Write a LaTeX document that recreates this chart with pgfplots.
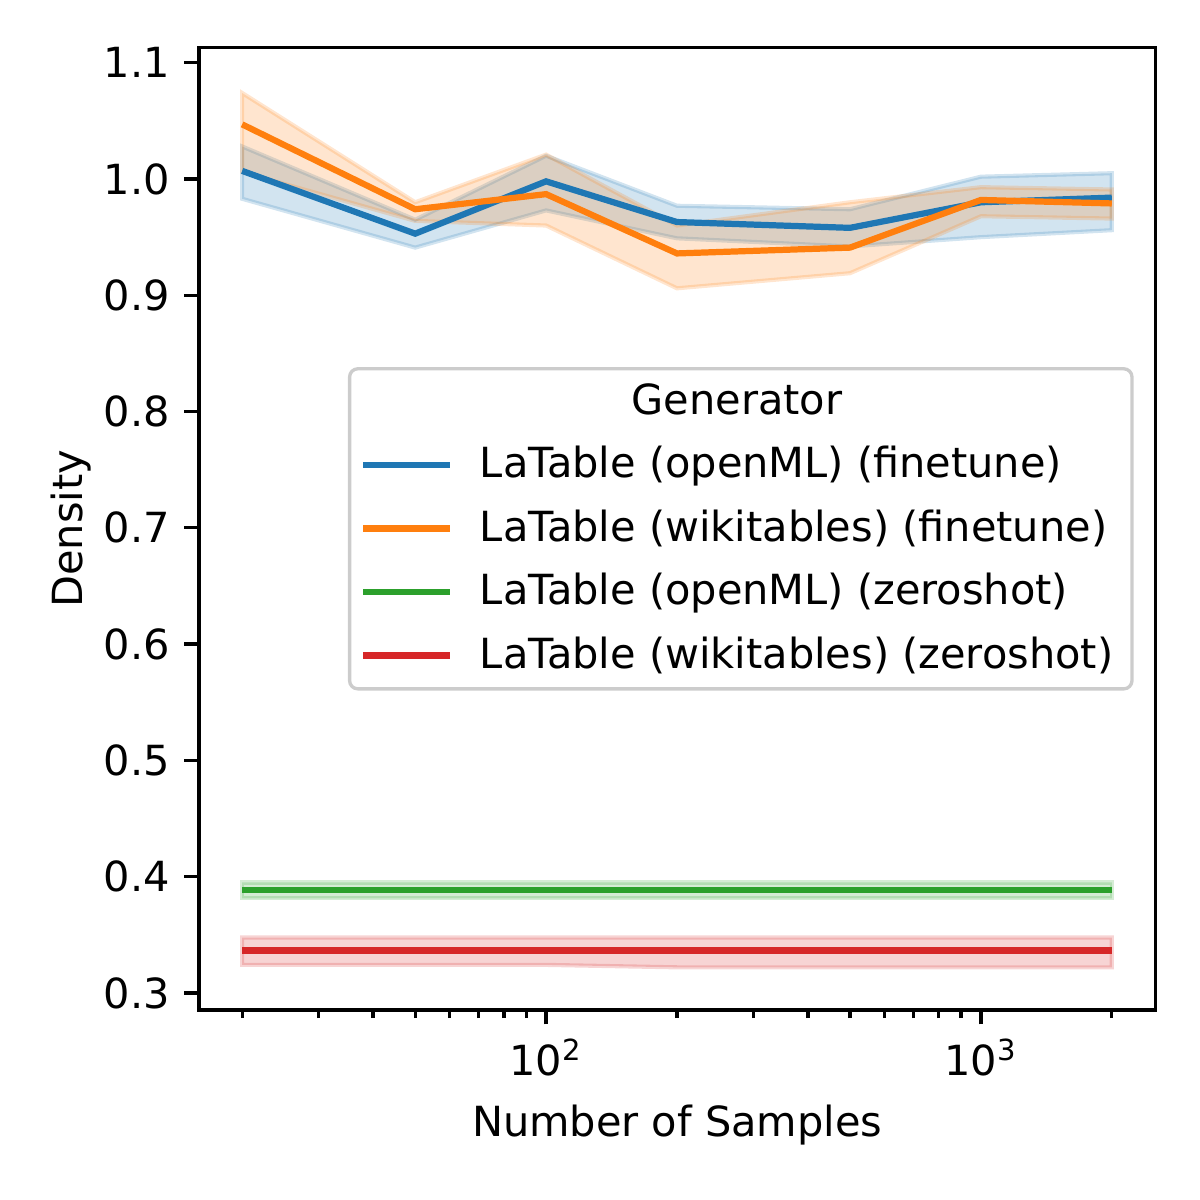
\documentclass[border=0pt]{standalone}
\usepackage{fontspec}
\setmainfont{DejaVu Sans}
\usepackage{pgfplots}
\pgfplotsset{compat=1.18}
\definecolor{tabblue}{HTML}{1F77B4}
\definecolor{taborange}{HTML}{FF7F0E}
\definecolor{tabgreen}{HTML}{2CA02C}
\definecolor{tabred}{HTML}{D62728}
\begin{document}
\begin{tikzpicture}
\begin{axis}[
	scale only axis,
	width=230.5pt,
	height=231.8pt,
	xmode=log,
	xmin=15.9, xmax=2523,
	ymin=0.2854, ymax=1.113,
	xtick={100,1000},
	xticklabels={10\textsuperscript{2},10\textsuperscript{3}},
	minor xtick={20,30,40,50,60,70,80,90,200,300,400,500,600,700,800,900,2000},
	ytick={0.3,0.4,0.5,0.6,0.7,0.8,0.9,1.0,1.1},
	yticklabel style={/pgf/number format/.cd,fixed,fixed zerofill,precision=1},
	/pgf/number format/assume math mode=true,
	tick align=outside,
	tick pos=left,
	major tick length=3.5pt,
	minor tick length=2pt,
	every tick/.style={black, line width=0.8pt},
	axis line style={line width=0.8pt},
	xlabel={Number of Samples},
	ylabel={Density},
	ylabel shift=-3.9pt,
	legend cell align=left,
	legend image code/.code={\draw[#1] (0pt,0pt) -- (21pt,0pt);},
	legend style={at={(0.977,0.668)}, anchor=north east,
		draw=black!20, line width=0.8pt, rounded corners=2pt,
		fill=white, fill opacity=0.8, text opacity=1,
		row sep=2.2pt, inner xsep=2.5pt, inner ysep=1.5pt,
		/tikz/every odd column/.append style={column sep=4.4pt},
		font=\fontsize{10}{12}\selectfont},
]
\addlegendimage{empty legend}
% confidence bands
\addplot[forget plot, fill=tabblue, fill opacity=0.2, draw=tabblue, draw opacity=0.2, line width=1pt] coordinates {
	(20,1.028) (50,0.965) (100,1.020) (200,0.977) (500,0.974) (1000,1.002) (2000,1.005)
	(2000,0.956) (1000,0.950) (500,0.942) (200,0.949) (100,0.973) (50,0.941) (20,0.983)} -- cycle;
\addplot[forget plot, fill=taborange, fill opacity=0.2, draw=taborange, draw opacity=0.2, line width=1pt] coordinates {
	(20,1.074) (50,0.980) (100,1.021) (200,0.960) (500,0.980) (1000,0.993) (2000,0.991)
	(2000,0.966) (1000,0.968) (500,0.919) (200,0.906) (100,0.960) (50,0.964) (20,1.006)} -- cycle;
\addplot[forget plot, fill=tabgreen, fill opacity=0.2, draw=tabgreen, draw opacity=0.2, line width=1pt] coordinates {
	(20,0.395) (50,0.395) (100,0.395) (200,0.395) (500,0.395) (1000,0.395) (2000,0.395)
	(2000,0.3814) (1000,0.3814) (500,0.3814) (200,0.3814) (100,0.3814) (50,0.3814) (20,0.3814)} -- cycle;
\addplot[forget plot, fill=tabred, fill opacity=0.2, draw=tabred, draw opacity=0.2, line width=1pt] coordinates {
	(20,0.3476) (50,0.3476) (100,0.3476) (200,0.3476) (500,0.3476) (1000,0.3476) (2000,0.3476)
	(2000,0.322) (1000,0.322) (500,0.322) (200,0.322) (100,0.3241) (50,0.3241) (20,0.3241)} -- cycle;
% mean lines
\addplot[tabblue, line width=1.5pt] coordinates {
	(20,1.007) (50,0.953) (100,0.998) (200,0.963) (500,0.958) (1000,0.980) (2000,0.984)};
\addplot[taborange, line width=1.5pt] coordinates {
	(20,1.047) (50,0.974) (100,0.987) (200,0.936) (500,0.941) (1000,0.982) (2000,0.979)};
\addplot[tabgreen, line width=1.5pt] coordinates {
	(20,0.3886) (50,0.3886) (100,0.3886) (200,0.3886) (500,0.3886) (1000,0.3886) (2000,0.3886)};
\addplot[tabred, line width=1.5pt] coordinates {
	(20,0.3364) (50,0.3364) (100,0.3364) (200,0.3364) (500,0.3364) (1000,0.3364) (2000,0.3364)};
\legend{\makebox[123.8pt][c]{Generator},
	LaTable (openML) (finetune),
	LaTable (wikitables) (finetune),
	LaTable (openML) (zeroshot),
	LaTable (wikitables) (zeroshot)}
\end{axis}
\path (current axis.south west) ++(-47.9pt,-45.8pt) rectangle ++(289.08pt,289.08pt);
\end{tikzpicture}
\end{document}
